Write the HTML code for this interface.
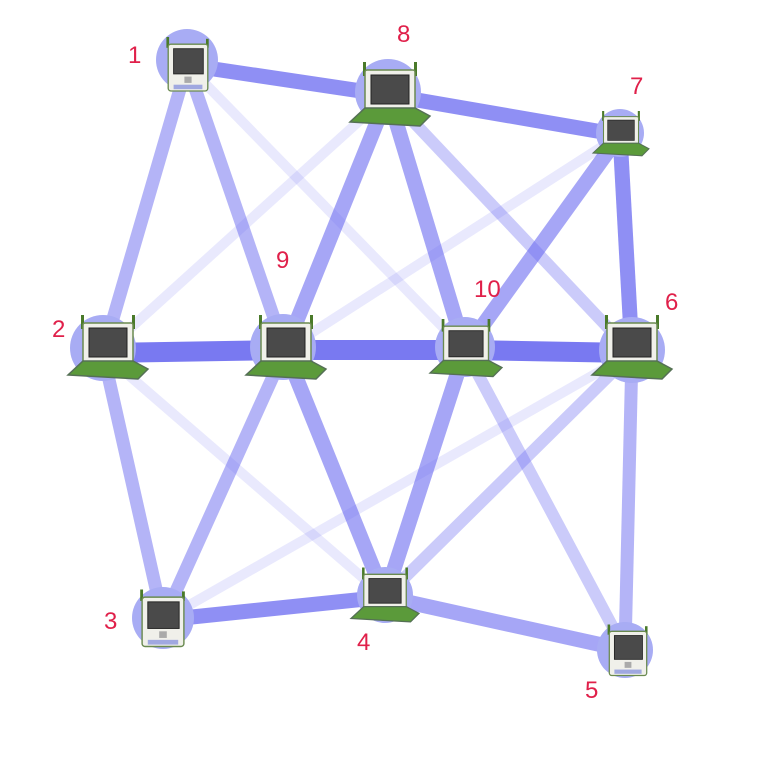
<!DOCTYPE html>
<html><head><meta charset="utf-8"><style>
html,body{margin:0;padding:0;background:#fff;width:774px;height:768px;overflow:hidden}
text{font-family:"Liberation Sans",sans-serif;font-size:24px;fill:#e0204a}
</style></head><body>
<svg width="774" height="768" viewBox="0 0 774 768" xmlns="http://www.w3.org/2000/svg">
<defs>
<g id="lap">
  <rect x="-27" y="-30" width="3" height="14" fill="#4a7a2a"/>
  <rect x="24" y="-30" width="3" height="14" fill="#4a7a2a"/>
  <rect x="-25" y="-22" width="50" height="40" rx="2" fill="#f0f0ea" stroke="#6a8a50" stroke-width="1.5"/>
  <rect x="-19" y="-17" width="38" height="29" fill="#4a4a4a" stroke="#222" stroke-width="1"/>
  <polygon points="-25,16 25,16 40,24 30,34 -40,30" fill="#5b9a3a" stroke="#557055" stroke-width="1.5"/>
</g>
<g id="tab">
  <rect x="-24" y="-30" width="3" height="12" fill="#4a7a2a"/>
  <rect x="20" y="-28" width="3" height="10" fill="#4a7a2a"/>
  <rect x="-22" y="-22" width="44" height="52" rx="3" fill="#f0f0ea" stroke="#6a8a50" stroke-width="1.5"/>
  <rect x="-16" y="-17" width="33" height="28" fill="#4a4a4a" stroke="#222" stroke-width="1"/>
  <rect x="-4" y="14" width="8" height="7" fill="#aaa"/>
  <rect x="-16" y="23" width="32" height="5" fill="#a0a8e0"/>
</g>
</defs>
<g stroke="#6a6af0" stroke-linecap="butt" fill="none">
  <g stroke-opacity="0.15" stroke-width="10">
    <line x1="187" y1="65" x2="465" y2="350"/>
    <line x1="388" y1="95" x2="103" y2="353"/>
    <line x1="620" y1="135" x2="285" y2="350"/>
    <line x1="163" y1="620" x2="632" y2="353"/>
    <line x1="103" y1="353" x2="385" y2="597"/>
  </g>
  <g stroke-opacity="0.35" stroke-width="12">
    <line x1="388" y1="95" x2="632" y2="353"/>
    <line x1="632" y1="353" x2="385" y2="597"/>
    <line x1="465" y1="350" x2="625" y2="650"/>
  </g>
  <g stroke-opacity="0.5" stroke-width="13">
    <line x1="187" y1="65" x2="103" y2="353"/>
    <line x1="187" y1="65" x2="285" y2="350"/>
    <line x1="103" y1="353" x2="163" y2="620"/>
    <line x1="285" y1="350" x2="163" y2="620"/>
    <line x1="632" y1="353" x2="625" y2="650"/>
  </g>
  <g stroke-opacity="0.6" stroke-width="15">
    <line x1="388" y1="95" x2="285" y2="350"/>
    <line x1="388" y1="95" x2="465" y2="350"/>
    <line x1="620" y1="135" x2="465" y2="350"/>
    <line x1="285" y1="350" x2="385" y2="597"/>
    <line x1="465" y1="350" x2="385" y2="597"/>
    <line x1="385" y1="597" x2="625" y2="650"/>
  </g>
  <g stroke-opacity="0.75" stroke-width="15">
    <line x1="187" y1="65" x2="388" y2="95"/>
    <line x1="388" y1="95" x2="620" y2="135"/>
    <line x1="620" y1="135" x2="632" y2="353"/>
    <line x1="163" y1="620" x2="385" y2="597"/>
  </g>
  <g stroke-opacity="0.9" stroke-width="20">
    <line x1="103" y1="353" x2="285" y2="350"/>
    <line x1="285" y1="350" x2="465" y2="350"/>
    <line x1="465" y1="350" x2="632" y2="353"/>
  </g>
</g>
<g fill="#a8acf4">
  <circle cx="187" cy="60" r="31"/>
  <circle cx="388" cy="92" r="33"/>
  <circle cx="620" cy="133" r="24"/>
  <circle cx="103" cy="348" r="33"/>
  <circle cx="283" cy="347" r="33"/>
  <circle cx="465" cy="347" r="30"/>
  <circle cx="632" cy="350" r="33"/>
  <circle cx="163" cy="618" r="31"/>
  <circle cx="385" cy="595" r="28"/>
  <circle cx="625" cy="650" r="28"/>
</g>
<use href="#tab" transform="translate(188,64) scale(0.9)"/>
<use href="#lap" transform="translate(390,92)"/>
<use href="#lap" transform="translate(621,132) scale(0.7)"/>
<use href="#lap" transform="translate(108,345)"/>
<use href="#lap" transform="translate(286,345)"/>
<use href="#lap" transform="translate(466,346) scale(0.9)"/>
<use href="#lap" transform="translate(632,345)"/>
<use href="#tab" transform="translate(163,618) scale(0.95)"/>
<use href="#lap" transform="translate(385,593) scale(0.85)"/>
<use href="#tab" transform="translate(628,650) scale(0.85)"/>
<text x="128" y="63">1</text>
<text x="397" y="42">8</text>
<text x="630" y="94">7</text>
<text x="52" y="337">2</text>
<text x="276" y="268">9</text>
<text x="474" y="297">10</text>
<text x="665" y="310">6</text>
<text x="104" y="629">3</text>
<text x="357" y="650">4</text>
<text x="585" y="698">5</text>
</svg>
</body></html>
